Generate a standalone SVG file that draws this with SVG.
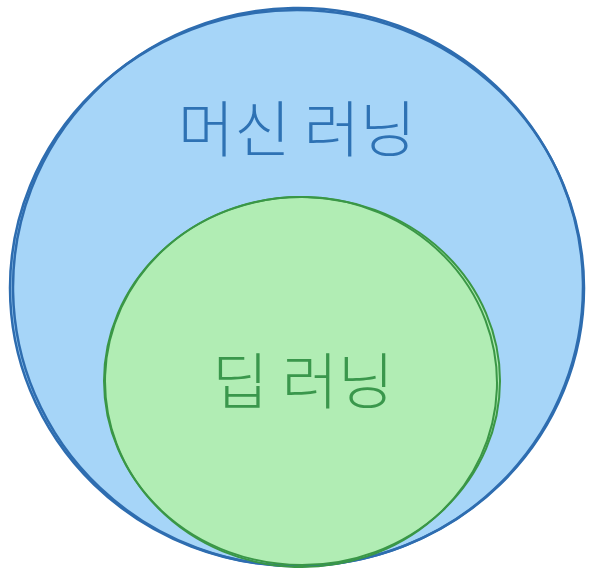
<svg xmlns="http://www.w3.org/2000/svg" width="595" height="576" viewBox="0 0 595 576">
<style>
.lbl{font-family:"Noto Sans CJK KR","Noto Sans",sans-serif;font-size:61px;font-weight:300;text-anchor:middle;dominant-baseline:central}
.ml{fill:#a6d5f8}
.mls{fill:none;stroke:#2e6db0;stroke-width:2.5}
.dl{fill:#b1edb4}
.dls{fill:none;stroke:#3a9746;stroke-width:2}
</style>
<rect width="595" height="576" fill="#ffffff"/>
<g id="machine-learning">
<ellipse class="ml" cx="297" cy="288" rx="287" ry="278"/>
<ellipse class="mls" cx="297" cy="288" rx="287" ry="278"/>
<ellipse class="mls" cx="298" cy="287" rx="285" ry="279" stroke-width="1.2" transform="rotate(-1 298 287)"/>
<text class="lbl" x="297" y="125" fill="#2e72b4">머신 러닝</text>
</g>
<g id="deep-learning">
<ellipse class="dl" cx="302" cy="381" rx="198" ry="184"/>
<ellipse class="dls" cx="302" cy="381" rx="198" ry="184"/>
<ellipse class="dls" cx="301" cy="382" rx="196" ry="185" stroke-width="1.2" transform="rotate(2 301 382)"/>
<text class="lbl" x="303" y="377" fill="#3a974c">딥 러닝</text>
</g>
<g id="connectors"/>
</svg>
